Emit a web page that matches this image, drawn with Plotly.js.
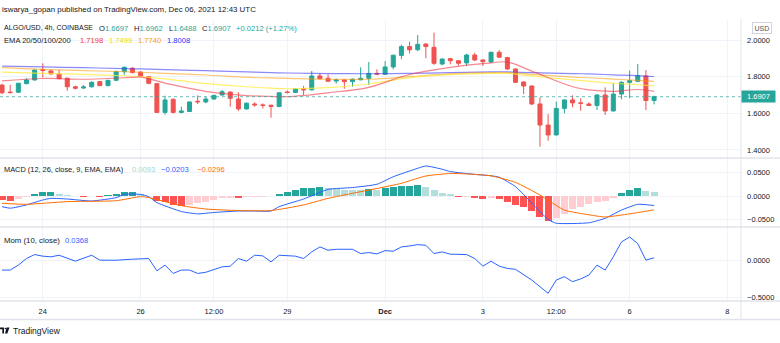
<!DOCTYPE html>
<html>
<head>
<meta charset="utf-8">
<script src="https://cdn.plot.ly/plotly-3.0.1.min.js"></script>
<style>html,body{margin:0;padding:0;background:#fff;}#chart{width:780px;height:343px;}</style>
</head>
<body>
<div id="chart"></div>
<script>
// ---- DATA (ALGO/USD 4h, COINBASE) ----
const firstBarUTC = '2021-11-23T04:00:00Z';
const barHours = 4;
const openP  = [1.754,1.716,1.715,1.762,1.782,1.838,1.831,1.815,1.791,1.745,1.738,1.745,1.773,1.751,1.780,1.827,1.846,1.825,1.800,1.762,1.605,1.676,1.605,1.610,1.666,1.662,1.678,1.700,1.716,1.678,1.624,1.651,1.646,1.644,1.637,1.716,1.714,1.734,1.728,1.804,1.791,1.776,1.782,1.773,1.783,1.791,1.818,1.813,1.853,1.916,1.964,1.947,1.978,1.960,1.869,1.898,1.887,1.875,1.918,1.891,1.880,1.933,1.904,1.842,1.771,1.749,1.651,1.536,1.482,1.627,1.673,1.657,1.651,1.643,1.700,1.613,1.705,1.769,1.775,1.804,1.6697];
const highP  = [1.762,1.755,1.766,1.791,1.840,1.873,1.838,1.836,1.795,1.750,1.754,1.775,1.777,1.782,1.832,1.856,1.852,1.830,1.805,1.765,1.696,1.683,1.636,1.664,1.698,1.690,1.700,1.727,1.720,1.715,1.660,1.660,1.654,1.648,1.714,1.725,1.736,1.750,1.831,1.820,1.812,1.790,1.785,1.790,1.851,1.880,1.840,1.885,1.920,1.974,1.991,2.027,1.982,2.040,1.900,1.902,1.890,1.924,1.930,1.895,1.936,1.945,1.908,1.845,1.775,1.752,1.687,1.596,1.664,1.675,1.698,1.682,1.660,1.705,1.742,1.764,1.775,1.833,1.869,1.836,1.6962];
const lowP   = [1.705,1.709,1.712,1.758,1.778,1.795,1.810,1.786,1.723,1.730,1.733,1.740,1.748,1.748,1.776,1.810,1.818,1.800,1.758,1.603,1.592,1.600,1.600,1.607,1.651,1.655,1.675,1.697,1.636,1.613,1.620,1.636,1.626,1.576,1.634,1.708,1.710,1.700,1.725,1.785,1.773,1.762,1.734,1.745,1.780,1.754,1.810,1.810,1.840,1.895,1.927,1.940,1.900,1.864,1.862,1.867,1.860,1.858,1.885,1.858,1.876,1.902,1.836,1.765,1.705,1.645,1.418,1.451,1.480,1.600,1.633,1.614,1.640,1.618,1.591,1.610,1.676,1.682,1.770,1.618,1.6488];
const closeP = [1.712,1.713,1.764,1.782,1.836,1.834,1.815,1.789,1.745,1.737,1.744,1.769,1.751,1.780,1.827,1.851,1.822,1.804,1.764,1.605,1.673,1.605,1.613,1.662,1.663,1.678,1.698,1.718,1.682,1.624,1.655,1.646,1.643,1.637,1.712,1.714,1.733,1.728,1.804,1.789,1.775,1.782,1.773,1.786,1.791,1.818,1.813,1.853,1.917,1.964,1.947,1.976,1.964,1.873,1.896,1.887,1.873,1.918,1.891,1.882,1.933,1.906,1.842,1.769,1.749,1.651,1.536,1.482,1.627,1.673,1.657,1.655,1.643,1.700,1.613,1.705,1.769,1.778,1.805,1.6697,1.6907];

// EMA lines read at these bar numbers (1-based)
const emaIdx = [1,6,11,16,18,21,26,31,34,36,41,46,51,56,61,63,66,71,73,76,79,81];
const ema20  = [1.777,1.790,1.786,1.794,1.797,1.765,1.720,1.697,1.692,1.691,1.712,1.742,1.812,1.851,1.875,1.880,1.830,1.745,1.728,1.720,1.730,1.7198];
const ema50  = [1.825,1.818,1.812,1.805,1.800,1.788,1.762,1.745,1.737,1.734,1.740,1.760,1.795,1.811,1.818,1.818,1.804,1.782,1.776,1.764,1.756,1.7499];
const ema100 = [1.849,1.840,1.833,1.827,1.824,1.818,1.809,1.797,1.793,1.791,1.786,1.786,1.800,1.815,1.822,1.822,1.813,1.798,1.794,1.787,1.780,1.7740];
const ema200 = [1.858,1.853,1.849,1.844,1.842,1.838,1.833,1.826,1.822,1.820,1.817,1.816,1.818,1.822,1.826,1.826,1.822,1.817,1.815,1.810,1.806,1.8008];

// MACD (12,26,9)
const macdHist = [-0.0095,-0.010,-0.007,-0.003,0.004,0.0075,0.0085,0.004,0.002,0.0007,-0.0015,-0.001,-0.0015,0.0014,0.005,0.008,0.0088,0.0035,0.001,-0.010,-0.0135,-0.019,-0.0205,-0.019,-0.0156,-0.012,-0.008,-0.005,-0.0035,-0.004,-0.003,-0.0028,-0.002,-0.001,0.004,0.009,0.0135,0.016,0.018,0.019,0.016,0.014,0.0135,0.0128,0.0125,0.014,0.0135,0.016,0.019,0.021,0.022,0.0225,0.019,0.012,0.007,0.0035,-0.002,-0.0015,-0.0035,-0.0064,-0.005,-0.007,-0.012,-0.019,-0.024,-0.032,-0.044,-0.0525,-0.0475,-0.038,-0.028,-0.0227,-0.0177,-0.012,-0.0106,-0.0035,0.0057,0.0128,0.017,0.0113,0.0093];
const macdIdx  = [1,2,4,6,7,9,12,15,16,18,19,20,23,25,27,30,32,34,35,38,41,44,47,49,52,53,55,56,59,61,62,64,66,68,69,73,75,77,79,81];
const macdLine = [-0.0227,-0.026,-0.019,-0.0085,-0.005,-0.0064,-0.0106,-0.0035,0.0035,0.0035,-0.0014,-0.014,-0.033,-0.038,-0.035,-0.032,-0.032,-0.032,-0.0227,-0.0064,0.014,0.018,0.025,0.041,0.059,0.064,0.057,0.052,0.046,0.043,0.040,0.020,-0.015,-0.050,-0.058,-0.057,-0.0475,-0.030,-0.0177,-0.0203];
const sigIdx   = [1,4,9,15,18,19,23,26,30,34,38,41,44,47,50,53,56,58,61,64,67,70,73,75,78,81];
const sigLine  = [-0.0156,-0.0177,-0.012,-0.010,-0.0014,-0.0035,-0.0206,-0.0277,-0.031,-0.031,-0.019,-0.005,0.0057,0.016,0.027,0.0426,0.048,0.047,0.043,0.029,0.002,-0.030,-0.040,-0.0447,-0.038,-0.0296];

// Momentum (10, close)
const momIdx  = [1,2,3,4,5,6,7,8,10,11,12,13,15,17,19,20,21,22,23,24,25,26,28,29,30,31,32,33,34,35,37,38,39,40,41,42,44,45,46,47,48,49,50,51,52,53,54,55,56,58,59,60,61,62,63,64,66,68,69,70,71,72,73,74,75,76,77,78,79,80,81];
const momVals = [-0.13,-0.13,-0.063,0.027,0.081,0.059,0.05,0.072,-0.009,0.036,0.072,0.0045,0.004,0.018,0.027,-0.14,-0.063,-0.176,-0.13,-0.13,-0.176,-0.16,-0.086,-0.077,0.027,-0.009,0.072,0.063,-0.018,0.072,0.059,0.027,0.117,0.185,0.14,0.153,0.153,0.095,0.108,0.09,0.135,0.126,0.185,0.198,0.216,0.207,0.095,0.117,0.086,0.081,0.027,-0.077,-0.009,-0.077,-0.108,-0.12,-0.266,-0.446,-0.266,-0.22,-0.288,-0.25,-0.198,-0.063,-0.13,0.05,0.252,0.32,0.23,0.005,0.0368];

// axis ticks
const xTickVals = ['2021-11-24','2021-11-26','2021-11-27 12:00','2021-11-29','2021-12-01','2021-12-03','2021-12-04 12:00','2021-12-06','2021-12-08'];
const xTickText = ['24','26','12:00','29','<b>Dec</b>','3','12:00','6','8'];
const priceTicks = [1.4,1.6,1.8,2.0];
const macdTicks = [-0.05,0,0.05];
const momTicks = [-0.5,0];

// ---- helpers ----
const t0 = Date.parse(firstBarUTC);
function barTime(i){ return new Date(t0 + (i-1)*barHours*3600e3).toISOString().slice(0,16).replace('T',' '); }
const times = openP.map((_,k)=>barTime(k+1));
const fmt = v => (v<0?'\u2212':'') + Math.abs(v).toFixed(4);

const W=741, PB=301, PH=281;
const px = x => x/W, py = y => (PB-y)/PH;
const FONT = 'Liberation Sans, Arial, sans-serif';
const TXT = '#131722';

// histogram colours (TradingView MACD scheme)
const histColors = macdHist.map((v,k)=>{
  const p = k>0 ? macdHist[k-1] : v;
  if (v>=0) return v>=p ? '#26a69a' : '#b2dfdb';
  return v<=p ? '#ff5252' : '#ffcdd2';
});

const traces = [
  {type:'candlestick', x:times, open:openP, high:highP, low:lowP, close:closeP,
   increasing:{line:{color:'#26a69a',width:1}, fillcolor:'#26a69a'},
   decreasing:{line:{color:'#ef5350',width:1}, fillcolor:'#ef5350'},
   whiskerwidth:0, xaxis:'x', yaxis:'y', hoverinfo:'skip'},
  {type:'scatter', mode:'lines', x:emaIdx.map(barTime), y:ema200, line:{color:'rgba(60,60,245,0.6)',width:1.2,shape:'spline'}, xaxis:'x', yaxis:'y'},
  {type:'scatter', mode:'lines', x:emaIdx.map(barTime), y:ema100, line:{color:'rgba(255,152,0,0.55)',width:1.2,shape:'spline'}, xaxis:'x', yaxis:'y'},
  {type:'scatter', mode:'lines', x:emaIdx.map(barTime), y:ema50, line:{color:'rgba(255,235,59,0.75)',width:1.2,shape:'spline'}, xaxis:'x', yaxis:'y'},
  {type:'scatter', mode:'lines', x:emaIdx.map(barTime), y:ema20, line:{color:'rgba(242,54,69,0.6)',width:1.2,shape:'spline'}, xaxis:'x', yaxis:'y'},
  {type:'bar', x:times, y:macdHist, marker:{color:histColors, line:{width:0}}, width:barHours*3600e3*0.86, xaxis:'x', yaxis:'y2'},
  {type:'scatter', mode:'lines', x:macdIdx.map(barTime), y:macdLine, line:{color:'#2962ff',width:1,shape:'spline',smoothing:0.5}, xaxis:'x', yaxis:'y2'},
  {type:'scatter', mode:'lines', x:sigIdx.map(barTime), y:sigLine, line:{color:'#ff6d00',width:1,shape:'spline',smoothing:0.5}, xaxis:'x', yaxis:'y2'},
  {type:'scatter', mode:'lines', x:momIdx.map(barTime), y:momVals, line:{color:'#2962ff',width:1}, xaxis:'x', yaxis:'y3'}
];

const last = closeP[closeP.length-1];
const yAx = (dom, rng, tv) => ({domain:dom, range:rng, side:'right', tickvals:tv, ticktext:tv.map(fmt),
  showgrid:true, gridcolor:'#f0f3fa', gridwidth:1, zeroline:false, showline:false, ticks:'',
  tickfont:{size:7.5,color:TXT,family:FONT}, ticklabelstandoff:5, fixedrange:true, anchor:'x'});

const sep = '#e0e3eb';
const shapes = [
  {type:'line', xref:'paper', yref:'y', x0:0, x1:1, y0:last, y1:last, line:{color:'rgba(38,166,154,0.7)',width:1,dash:'dot'}},
  {type:'line', xref:'paper', yref:'paper', x0:0, x1:780/W, y0:py(158), y1:py(158), line:{color:sep,width:1.5}},
  {type:'line', xref:'paper', yref:'paper', x0:0, x1:780/W, y0:py(227), y1:py(227), line:{color:sep,width:1.5}},
  {type:'line', xref:'paper', yref:'paper', x0:0, x1:780/W, y0:py(301), y1:py(301), line:{color:sep,width:1.5}},
  {type:'line', xref:'paper', yref:'paper', x0:0, x1:780/W, y0:py(319.5), y1:py(319.5), line:{color:sep,width:1.5}},
  {type:'line', xref:'paper', yref:'paper', x0:1, x1:1, y0:py(319.5), y1:py(19), line:{color:sep,width:1}},
  // TradingView logo mark
  {type:'path', xref:'paper', yref:'paper', fillcolor:TXT, line:{width:0},
   path:`M${px(0)},${py(327.5)} L${px(4)},${py(327.5)} L${px(4)},${py(333.5)} L${px(2.3)},${py(333.5)} L${px(2.3)},${py(329.2)} L${px(0)},${py(329.2)} Z`},
  {type:'path', xref:'paper', yref:'paper', fillcolor:TXT, line:{width:0},
   path:`M${px(6.5)},${py(327.5)} L${px(9.5)},${py(327.5)} L${px(7.3)},${py(333.5)} L${px(5)},${py(333.5)} Z`},
  {type:'circle', xref:'paper', yref:'paper', fillcolor:TXT, line:{width:0}, x0:px(4.6), x1:px(6.2), y0:py(329.3), y1:py(327.7)}
];

function ann(text, x, y, color, size, extra){
  return Object.assign({text:text, xref:'paper', yref:'paper', x:px(x), y:py(y), xanchor:'left', yanchor:'middle',
    showarrow:false, font:{size:size||8, color:color||TXT, family:FONT}}, extra||{});
}
const teal='#26a69a';
const annotations = [
  ann('iswarya_gopan published on TradingView.com, Dec 06, 2021 12:43 UTC', 0, 9, TXT, 7.9),
  ann('ALGO/USD, 4h, COINBASE', 2, 28.3, TXT, 7.1),
  ann('O<span style="color:'+teal+'">1.6697</span>', 97, 28.3, TXT, 7.6),
  ann('H<span style="color:'+teal+'">1.6962</span>', 132, 28.3, TXT, 7.6),
  ann('L<span style="color:'+teal+'">1.6488</span>', 167, 28.3, TXT, 7.6),
  ann('C<span style="color:'+teal+'">1.6907</span>', 200, 28.3, TXT, 7.6),
  ann('+0.0212 (+1.27%)', 234, 28.3, teal, 7.6),
  ann('EMA 20/50/100/200', 2, 40, TXT, 7.6),
  ann('1.7198', 78, 40, '#f23645', 7.6),
  ann('1.7499', 107, 40, '#e8dc00', 7.6),
  ann('1.7740', 136, 40, '#ff9800', 7.6),
  ann('1.8008', 165, 40, '#3030ff', 7.6),
  ann('MACD (12, 26, close, 9, EMA, EMA)', 2, 169.5, TXT, 7.4),
  ann('0.0093', 130, 169.5, '#9fd6cf', 7.6),
  ann('\u22120.0203', 159, 169.5, '#2962ff', 7.6),
  ann('\u22120.0296', 195, 169.5, '#ff6d00', 7.6),
  ann('Mom (10, close)', 2, 240.5, TXT, 7.8),
  ann('0.0368', 63, 240.5, '#2962ff', 7.6),
  ann('TradingView', 11, 331, TXT, 8.5),
  // USD unit box
  {text:'USD', xref:'paper', yref:'paper', x:px(762), y:py(28), xanchor:'center', yanchor:'middle', showarrow:false,
   font:{size:7,color:'#50535e',family:FONT}, bordercolor:'#d1d4dc', borderwidth:1, borderpad:1.5, bgcolor:'#fff'},
  // last price label
  {text:'1.6907', xref:'paper', yref:'y', x:1, y:last, xanchor:'left', yanchor:'middle', showarrow:false,
   font:{size:7.5,color:'#ffffff',family:FONT}, bgcolor:teal, width:33, height:11, borderpad:0}
];

const layout = {
  width:780, height:343, margin:{l:0,r:39,t:20,b:42},
  paper_bgcolor:'#ffffff', plot_bgcolor:'#ffffff', showlegend:false, bargap:0,
  font:{family:FONT, color:TXT, size:8},
  xaxis:{type:'date', range:['2021-11-23 03:00','2021-12-08 06:40'], tickvals:xTickVals, ticktext:xTickText,
    showgrid:true, gridcolor:'#f0f3fa', zeroline:false, showline:false, ticks:'', anchor:'y3',
    tickfont:{size:7.5,color:TXT,family:FONT}, ticklabelstandoff:4, rangeslider:{visible:false}, fixedrange:true},
  yaxis: yAx([py(158),1], [1.3563,2.1091], priceTicks),
  yaxis2: yAx([py(227),py(158)], [-0.066,0.0809], macdTicks),
  yaxis3: yAx([0,py(227)], [-0.551,0.456], momTicks),
  shapes:shapes, annotations:annotations
};

Plotly.newPlot('chart', traces, layout, {staticPlot:true, displayModeBar:false});
</script>
</body>
</html>
